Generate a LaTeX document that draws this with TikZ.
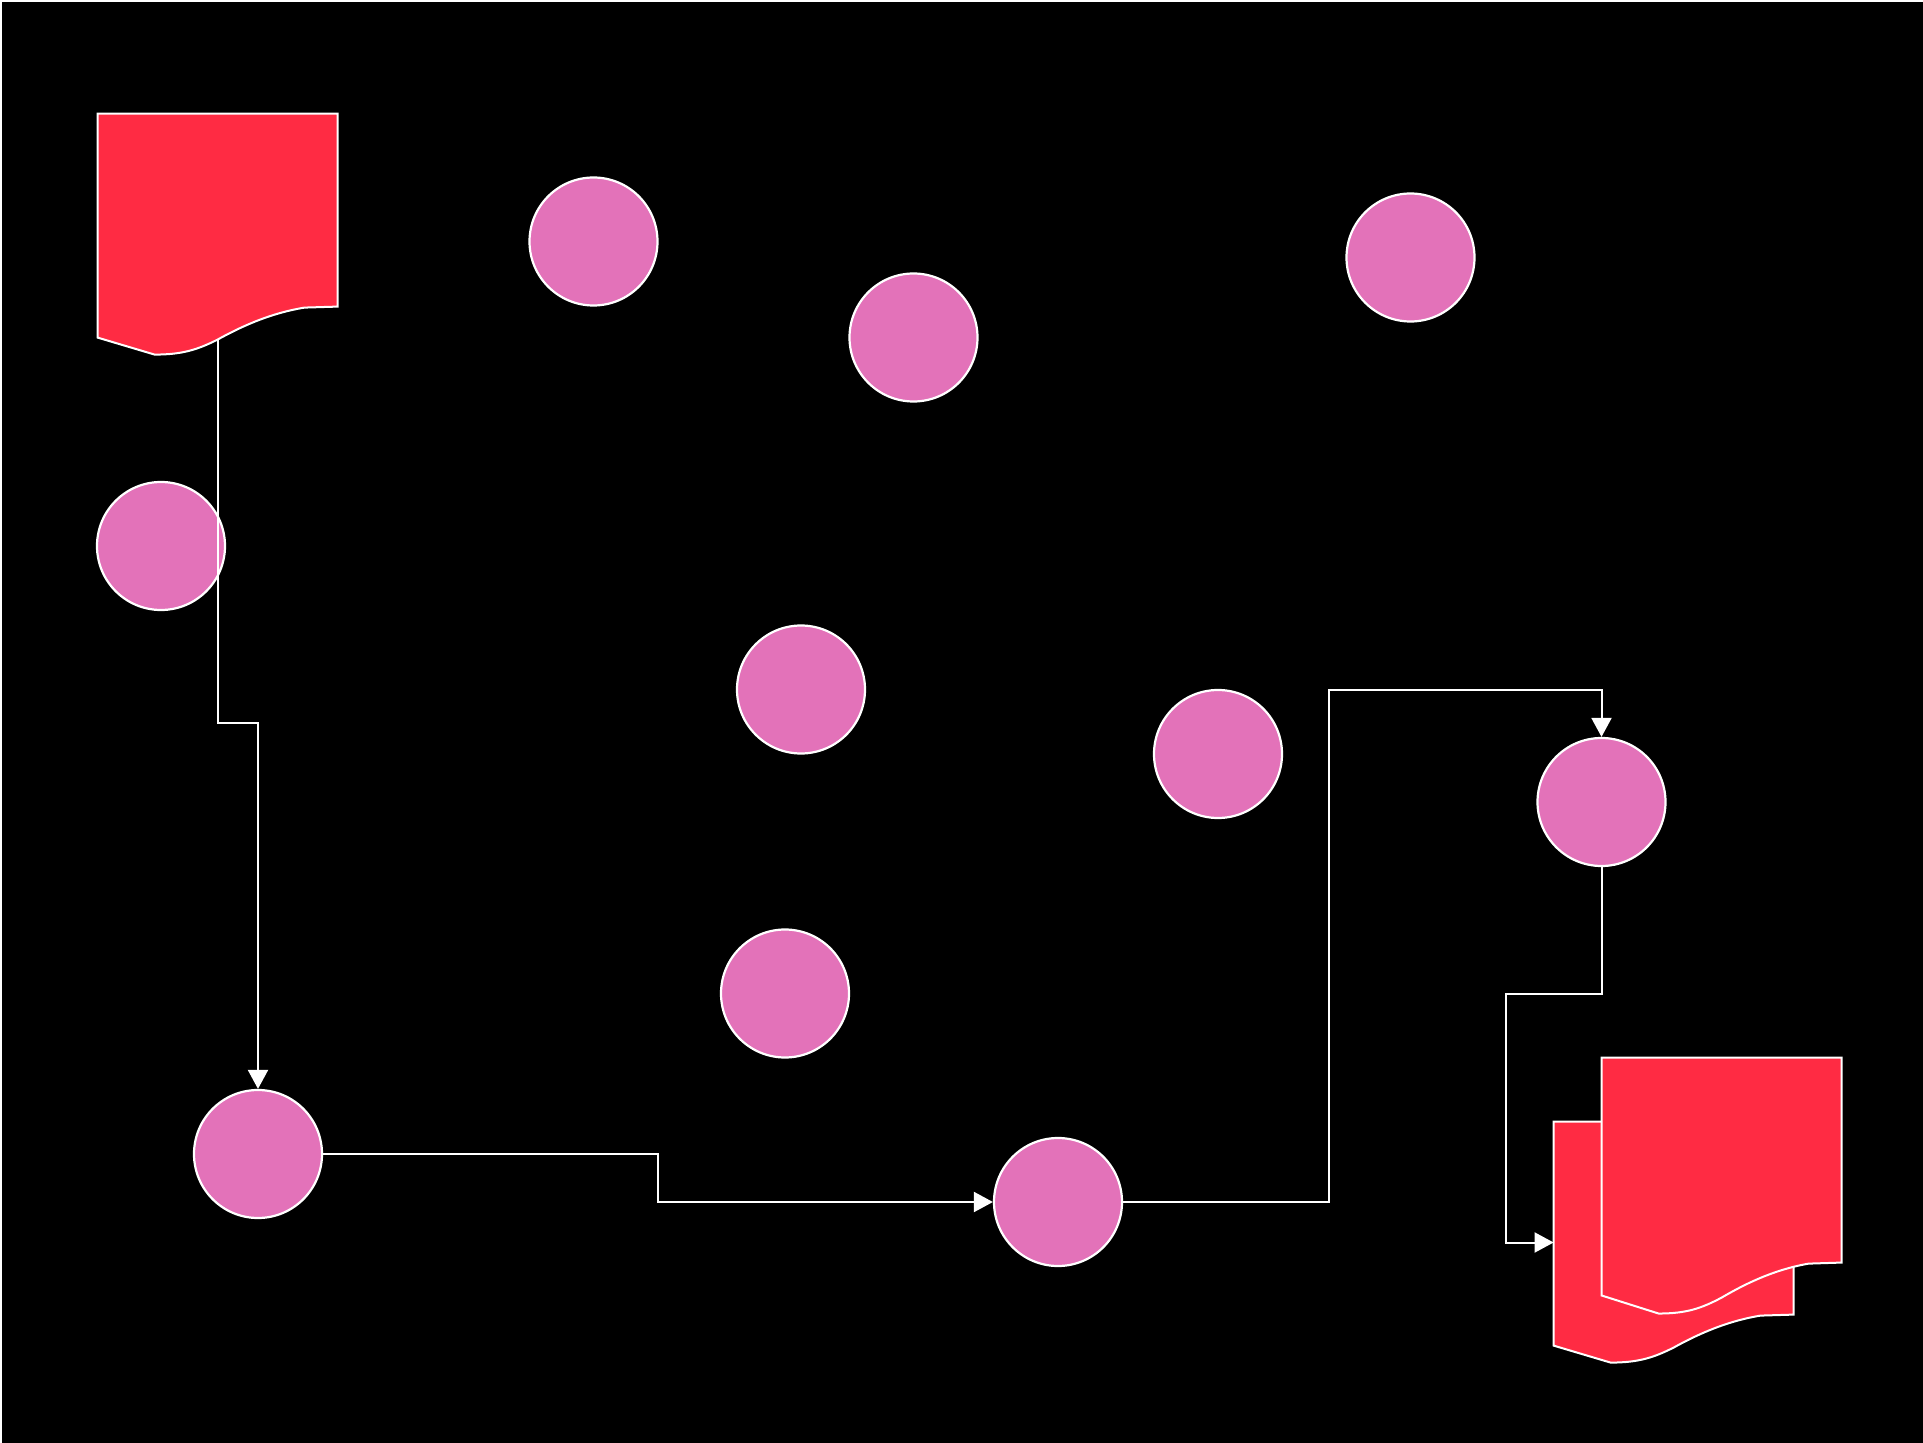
\documentclass[tikz,border=0pt]{standalone}
\usepackage{tikz}
\usetikzlibrary{positioning,arrows.meta,calc}
\usepackage{xcolor}
\definecolor{docred}{RGB}{255,43,67}
\definecolor{stagepink}{RGB}{227,114,185}

% wavy document outline over an invisible node
\newcommand{\docshape}[2]{%
  \begin{scope}[shift={(#1.north west)}, yscale=#2]
    \draw[docline] (0,0) -- (240,0) -- (240,193) -- (207,194)
      .. controls (170,200) and (140,215) .. (120,226)
      .. controls (100,236) and (85,241) .. (57,241) -- (0,224) -- cycle;
  \end{scope}}

\begin{document}
\begin{tikzpicture}[
    x=0.5pt, y=-0.5pt,
    stage/.style={circle, draw=white, line width=1.1pt, fill=stagepink, minimum size=64pt, inner sep=0pt},
    docbox/.style={rectangle, draw=none, minimum width=120pt, inner sep=0pt},
    docline/.style={draw=white, line width=1pt, fill=docred},
    arrow/.style={-{Triangle[length=9.5pt, width=10pt]}, draw=white, line width=1pt, color=white}
]
\useasboundingbox (0,0) rectangle (1923,1443);
\fill[white] (0,0) rectangle (1923,1443);
\fill[black] (2,2) rectangle (1923,1443);

% Documents
\node[docbox, minimum height=120.5pt] (doc1) at (218,234.5) {};
\node[docbox, minimum height=120.5pt] (docback) at (1674,1242.5) {};
\node[docbox, minimum height=128pt] (docfront) at (1722,1186) {};
\docshape{doc1}{1}
\docshape{docback}{1}
\docshape{docfront}{1.062}
\coordinate (doc1out) at ($(doc1.north west)+(120,226)$);

% Circles
\node[stage] (c1) at (593.5,241.5) {};
\node[stage] (c2) at (913.5,337.5) {};
\node[stage] (c3) at (1410.5,257.5) {};
\node[stage] (c4) at (161,546) {};
\node[stage] (c5) at (801,689.5) {};
\node[stage] (c6) at (1218,754) {};
\node[stage] (c7) at (1601.5,802) {};
\node[stage] (c8) at (785,993.5) {};
\node[stage] (c9) at (258,1154) {};
\node[stage] (c10) at (1058,1202) {};

% Connections
\draw[arrow] (doc1out) -- ++(0,383) -| (c9.north);
\draw[arrow] (c9.east) -| ($(c9.east)!0.5!(c10.west)$) |- (c10.west);
\draw[arrow] (c10.east) -| (1329,690.5) -| (c7.north);
\draw[arrow] (c7.south) |- (1506,993.5) |- (docback.west);
\end{tikzpicture}
\end{document}
